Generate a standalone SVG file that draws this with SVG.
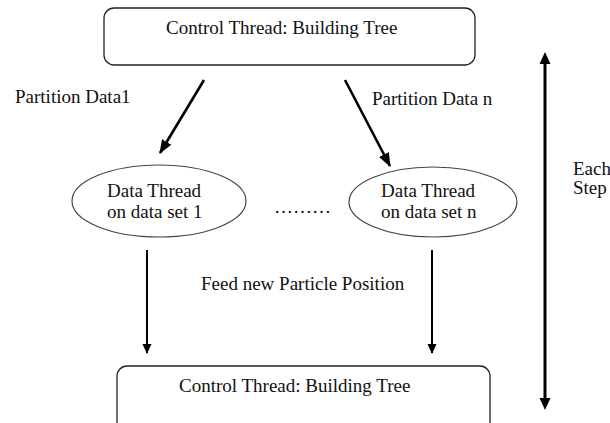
<svg xmlns="http://www.w3.org/2000/svg" width="610" height="423" viewBox="0 0 610 423">
<style>
text{font-family:"Liberation Serif","Times New Roman",serif;font-size:19px;fill:#111}
.box{fill:#fff;stroke:#222;stroke-width:1.3}
.ell{fill:#fff;stroke:#444;stroke-width:1.2}
.con{stroke:#000;fill:none}
</style>
<defs>
<marker id="ah" markerWidth="10" markerHeight="11" refX="10" refY="5" orient="auto" markerUnits="userSpaceOnUse" viewBox="0 0 11 10"><path d="M0,0 L11,5 L0,10 z" fill="#000"/></marker>
<marker id="ahs" markerWidth="14" markerHeight="11" refX="13" refY="5.5" orient="auto" markerUnits="userSpaceOnUse" viewBox="0 0 14 11"><path d="M0,0 L14,5.5 L0,11 z" fill="#000"/></marker>
</defs>
<rect width="610" height="423" fill="#fff"/>
<g id="top-control">
<rect class="box" x="104" y="8" width="371" height="57" rx="10"/>
<text x="166" y="34">Control Thread: Building Tree</text>
</g>
<g id="data-thread-1">
<ellipse class="ell" cx="159" cy="201" rx="87" ry="36"/>
<text x="107" y="197">Data Thread</text>
<text x="107" y="218">on data set 1</text>
</g>
<g id="data-thread-n">
<ellipse class="ell" cx="433" cy="202" rx="84" ry="35"/>
<text x="381" y="197">Data Thread</text>
<text x="381" y="218">on data set n</text>
</g>
<g id="bottom-control">
<rect class="box" x="117" y="366" width="373" height="70" rx="10"/>
<text x="179" y="392">Control Thread: Building Tree</text>
</g>
<g id="connectors">
<line class="con" x1="204" y1="80" x2="160" y2="153" stroke-width="2.6" marker-end="url(#ahs)"/>
<line class="con" x1="345" y1="80" x2="390" y2="166" stroke-width="2.6" marker-end="url(#ahs)"/>
<line class="con" x1="147" y1="250" x2="147" y2="353" stroke-width="2" marker-end="url(#ah)"/>
<line class="con" x1="432" y1="250" x2="432" y2="353" stroke-width="2" marker-end="url(#ah)"/>
<line class="con" x1="545" y1="62" x2="545" y2="400" stroke-width="3"/>
<path d="M545,52 L550.5,64 L539.5,64 z" fill="#000"/>
<path d="M545,410 L550.5,398 L539.5,398 z" fill="#000"/>
</g>
<g id="labels">
<text x="15" y="103">Partition Data1</text>
<text x="372" y="105">Partition Data n</text>
<text x="274" y="213">………</text>
<text x="201" y="290">Feed new Particle Position</text>
<text x="573" y="175">Each</text>
<text x="573" y="194">Step</text>
</g>
</svg>
